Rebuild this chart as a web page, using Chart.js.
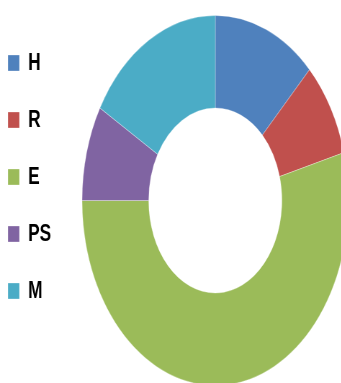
<!DOCTYPE html>
<html>
<head>
<meta charset="utf-8">
<script src="https://cdn.jsdelivr.net/npm/chart.js@4/dist/chart.umd.min.js"></script>
<style>
  html, body { margin: 0; padding: 0; background: #fff; }
  #wrap { width: 341px; height: 383px; overflow: hidden; position: relative; }
  /* the chart is drawn wide, then squeezed sideways */
  #myChart { position: absolute; left: 0; top: 0; transform: scaleX(0.72); transform-origin: 0 0; }
</style>
</head>
<body>
<div id="wrap">
  <canvas id="myChart" width="522" height="400"></canvas>
</div>
<script>
const labels = ['H', 'R', 'E', 'PS', 'M'];
const counts = [3, 2, 13, 2, 4];
const sliceColors = ['#4F81BD', '#C0504D', '#9BBB59', '#8064A2', '#4BACC6'];

document.addEventListener('DOMContentLoaded', () => {
  const ctx = document.getElementById('myChart');

  new Chart(ctx, {
    type: 'doughnut',
    data: {
      labels: labels,
      datasets: [{
        data: counts,
        backgroundColor: sliceColors,
        borderColor: 'rgba(255,255,255,0.3)',
        borderWidth: 1
      }]
    },
    options: {
      responsive: false,
      animation: false,
      cutout: '50%',
      layout: {
        padding: { left: -22, top: 15, right: 0, bottom: 14 }
      },
      plugins: {
        tooltip: { enabled: false },
        legend: {
          position: 'left',
          align: 'start',
          maxWidth: 98,
          // empty title just nudges the items down a little
          title: { display: true, text: '', padding: 0, font: { size: 2.5 } },
          labels: {
            boxWidth: 16,
            boxHeight: 16,
            padding: 33,
            color: '#000',
            font: { family: "'Liberation Sans', Arial, sans-serif", size: 24, weight: 'bold' }
          }
        }
      }
    }
  });
});
</script>
</body>
</html>
